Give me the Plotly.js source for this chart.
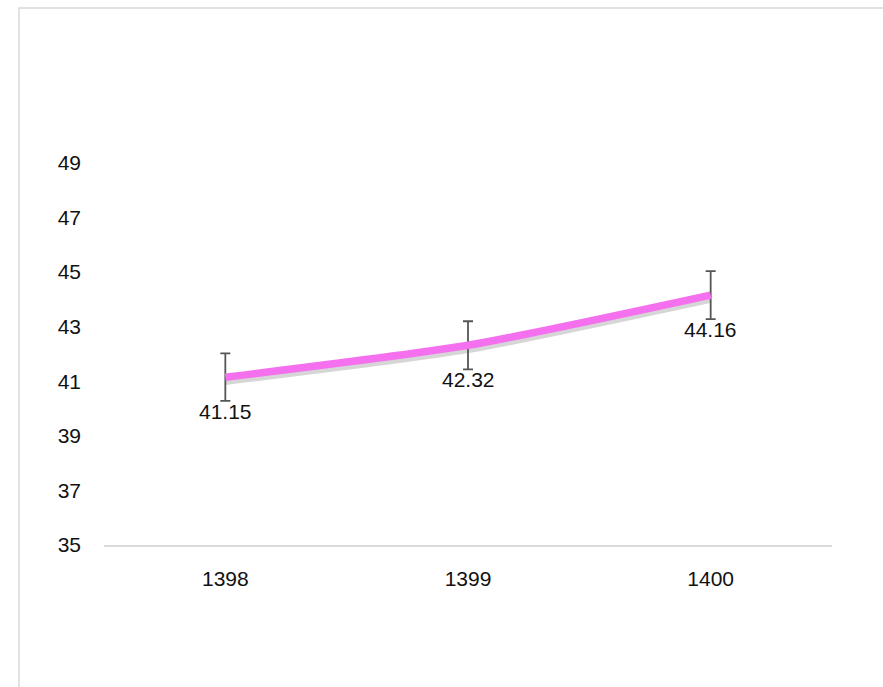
<!DOCTYPE html>
<html>
<head>
<meta charset="utf-8">
<script src="https://cdn.plot.ly/plotly-3.0.1.min.js"></script>
<style>html,body{margin:0;padding:0;background:#fff;}#chart{width:883px;height:687px;}</style>
</head>
<body>
<div id="chart"></div>
<script>
const years = ['1398', '1399', '1400'];
const values = [41.15, 42.32, 44.16];
const errors = [0.87, 0.88, 0.88];
const labels = ['41.15', '42.32', '44.16'];
const yTicks = [35, 37, 39, 41, 43, 45, 47, 49];

const font = {family: 'Liberation Sans, Arial, sans-serif', size: 21, color: '#111'};

const shadow = {
  x: years,
  y: values.map(v => v - 0.14),
  type: 'scatter',
  mode: 'lines',
  line: {color: 'rgba(0,0,0,0.16)', width: 8, shape: 'spline', smoothing: 0.6},
  hoverinfo: 'skip',
  showlegend: false
};

const main = {
  x: years,
  y: values,
  type: 'scatter',
  mode: 'lines',
  line: {color: '#f470ef', width: 7.5, shape: 'spline', smoothing: 0.6},
  error_y: {type: 'data', array: errors, visible: true, color: '#555555', thickness: 1.8, width: 5},
  showlegend: false
};

const annotations = years.map((yr, i) => ({
  x: i, y: values[i], xref: 'x', yref: 'y',
  text: labels[i], showarrow: false,
  yanchor: 'middle', xanchor: 'center', yshift: -34,
  font: font
}));

const layout = {
  width: 883, height: 687,
  margin: {l: 104, r: 51, t: 163, b: 142, pad: 0},
  paper_bgcolor: '#fff', plot_bgcolor: '#fff',
  font: font,
  showlegend: false,
  xaxis: {
    type: 'category', range: [-0.5, 2.5],
    showgrid: false, zeroline: false,
    showline: true, linecolor: '#d9d9d9', linewidth: 2,
    ticks: '', ticklabelstandoff: 14,
    tickfont: font, fixedrange: true
  },
  yaxis: {
    range: [35, 49], tickvals: yTicks, ticktext: yTicks.map(String),
    showgrid: false, zeroline: false, showline: false,
    ticks: '', ticklabelstandoff: 22,
    tickfont: font, fixedrange: true
  },
  annotations: annotations,
  shapes: [{
    type: 'rect', xref: 'paper', yref: 'paper',
    x0: (19 - 104) / 728, x1: 1.5, y0: -0.6, y1: (545 - 8) / 382,
    line: {color: '#d9d9d9', width: 1.5}, fillcolor: 'rgba(0,0,0,0)', layer: 'below'
  }]
};

Plotly.newPlot('chart', [shadow, main], layout, {displayModeBar: false, staticPlot: true});
</script>
</body>
</html>
